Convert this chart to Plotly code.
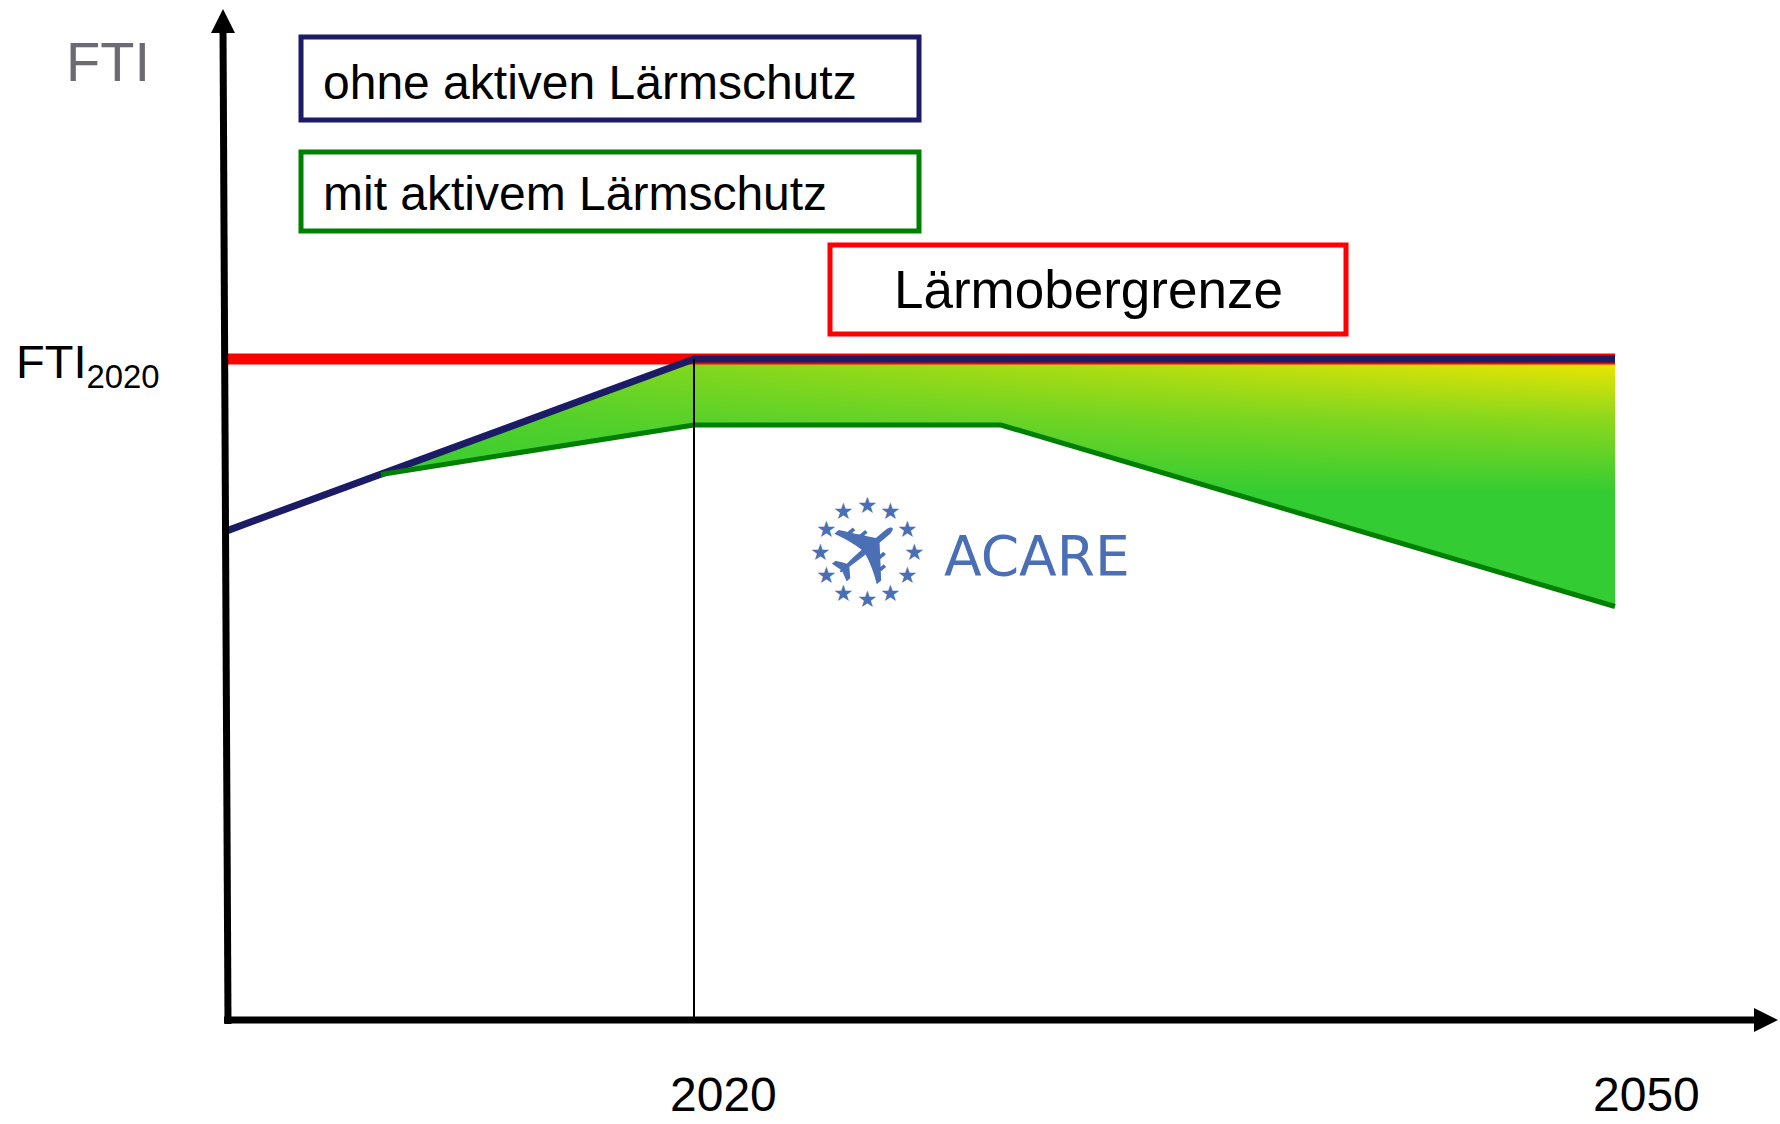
import math
import plotly.graph_objects as go

# ---------------- data (schematic values) ----------------
years_navy = [2004.8, 2020, 2050]          # ohne aktiven Lärmschutz
fti_navy = [74.0, 100.0, 100.0]
years_green = [2009.8, 2020, 2030, 2050]   # mit aktivem Lärmschutz
fti_green = [82.5, 90.0, 90.0, 62.5]
years_cap = [2004.8, 2050]                 # Lärmobergrenze
fti_cap = [100.0, 100.0]
fti_2020 = 100.0
tick_years = [2020, 2050]
tick_labels = ["2020", "2050"]
legend_labels = ["ohne aktiven Lärmschutz", "mit aktivem Lärmschutz", "Lärmobergrenze"]

# ---------------- layout geometry ----------------
W, H = 1780, 1124
PX_PER_YEAR = 30.7
PX_PER_UNIT = 6.6
X_RANGE = [2020 - 694 / PX_PER_YEAR, 2020 + (W - 694) / PX_PER_YEAR]
Y_RANGE = [-(H - 1019) / PX_PER_UNIT, 1019 / PX_PER_UNIT]

def px(x):
    return x / W

def py(y):
    return 1 - y / H

FONT = "Liberation Sans, Arial, sans-serif"
NAVY = "#1b1b66"
GREEN = "#008000"
RED = "#ff0000"
LOGO = "#4a6fb5"

# fill polygon between the two curves
top_x = [years_green[0]] + [x for x in years_navy if x > years_green[0]]
top_y = [fti_green[0]] + [y for x, y in zip(years_navy, fti_navy) if x > years_green[0]]
poly_x = top_x + years_green[::-1]
poly_y = top_y + fti_green[::-1]

fig = go.Figure()

fig.add_trace(go.Scatter(
    x=poly_x, y=poly_y, mode="none", fill="toself", hoverinfo="skip",
    fillgradient=dict(type="vertical",
                      colorscale=[[0, "#33cc33"], [0.46, "#33cc33"], [0.76, "#8ed81c"], [1, "#f2e600"]]),
))
fig.add_trace(go.Scatter(
    x=poly_x, y=poly_y, mode="none", fill="toself", hoverinfo="skip",
    fillgradient=dict(type="horizontal",
                      colorscale=[[0, "rgba(51,204,51,0.75)"], [1, "rgba(51,204,51,0)"]]),
))
fig.add_trace(go.Scatter(x=years_cap, y=fti_cap, mode="lines",
                         line=dict(color=RED, width=11), hoverinfo="skip"))
fig.add_trace(go.Scatter(x=years_navy, y=fti_navy, mode="lines",
                         line=dict(color=NAVY, width=7), hoverinfo="skip"))
fig.add_trace(go.Scatter(x=years_green, y=fti_green, mode="lines",
                         line=dict(color=GREEN, width=5), hoverinfo="skip"))

shapes = []
# vertical 2020 line
shapes.append(dict(type="line", xref="x", yref="y", x0=tick_years[0], x1=tick_years[0],
                   y0=0, y1=fti_2020, line=dict(color="black", width=2)))
# axes
shapes.append(dict(type="line", xref="paper", yref="paper", x0=px(228), y0=py(1024),
                   x1=px(223), y1=py(28), line=dict(color="black", width=7)))
shapes.append(dict(type="path", xref="paper", yref="paper",
                   path=f"M {px(223)} {py(9)} L {px(211)} {py(33)} L {px(235)} {py(33)} Z",
                   fillcolor="black", line=dict(width=0)))
shapes.append(dict(type="line", xref="paper", yref="paper", x0=px(224), y0=py(1020),
                   x1=px(1760), y1=py(1020), line=dict(color="black", width=7)))
shapes.append(dict(type="path", xref="paper", yref="paper",
                   path=f"M {px(1778)} {py(1020)} L {px(1754)} {py(1008)} L {px(1754)} {py(1032)} Z",
                   fillcolor="black", line=dict(width=0)))
# legend boxes
for (x0, y0, x1, y1, c) in [(301, 37, 919, 120, NAVY), (301, 152, 919, 231, GREEN), (830, 245, 1346, 334, RED)]:
    shapes.append(dict(type="rect", xref="paper", yref="paper", x0=px(x0), x1=px(x1),
                       y0=py(y1), y1=py(y0), line=dict(color=c, width=5), fillcolor="white",
                       layer="above"))

ann = []
ann.append(dict(text="FTI", xref="paper", yref="paper", x=px(108), y=py(62), showarrow=False,
                font=dict(family=FONT, size=56, color="#6b6b73"), xanchor="center", yanchor="middle"))
ann.append(dict(text="FTI<sub>2020</sub>", xref="paper", yref="y", x=px(14), y=fti_2020, yshift=-6,
                showarrow=False, font=dict(family=FONT, size=47, color="black"),
                xanchor="left", yanchor="middle"))
ann.append(dict(text=legend_labels[0], xref="paper", yref="paper", x=px(321), y=py(82), showarrow=False,
                font=dict(family=FONT, size=48, color="black"), xanchor="left", yanchor="middle"))
ann.append(dict(text=legend_labels[1], xref="paper", yref="paper", x=px(321), y=py(193), showarrow=False,
                font=dict(family=FONT, size=48, color="black"), xanchor="left", yanchor="middle"))
ann.append(dict(text=legend_labels[2], xref="paper", yref="paper", x=px(1088), y=py(289), showarrow=False,
                font=dict(family=FONT, size=53, color="black"), xanchor="center", yanchor="middle"))
for yr, lab, sh in zip(tick_years, tick_labels, [29, 31]):
    ann.append(dict(text=lab, xref="x", yref="paper", x=yr, xshift=sh, y=py(1094), showarrow=False,
                    font=dict(family=FONT, size=48, color="black"), xanchor="center", yanchor="middle"))

# ACARE logo
cx, cy, r = 867, 552, 47
for k in range(12):
    a = math.radians(90 - 30 * k)
    ann.append(dict(text="★", xref="paper", yref="paper", x=px(cx + r * math.cos(a)),
                    y=py(cy - r * math.sin(a)), showarrow=False,
                    font=dict(family="DejaVu Sans", size=23, color=LOGO), xanchor="center", yanchor="middle"))
ann.append(dict(text="✈", xref="paper", yref="paper", x=px(cx), y=py(cy), showarrow=False, textangle=-40,
                font=dict(family="DejaVu Sans", size=96, color=LOGO), xanchor="center", yanchor="middle"))
ann.append(dict(text="ACARE", xref="paper", yref="paper", x=px(942), y=py(556), showarrow=False,
                font=dict(family="DejaVu Sans", size=55, color=LOGO), xanchor="left", yanchor="middle"))

fig.update_layout(
    width=W, height=H, margin=dict(l=0, r=0, t=0, b=0),
    paper_bgcolor="white", plot_bgcolor="white", showlegend=False,
    xaxis=dict(range=X_RANGE, visible=False, fixedrange=True),
    yaxis=dict(range=Y_RANGE, visible=False, fixedrange=True),
    shapes=shapes, annotations=ann,
)

fig.write_html("out.html", config={"displayModeBar": False},
               post_script="document.body.style.margin='0';document.body.style.overflow='hidden';")
